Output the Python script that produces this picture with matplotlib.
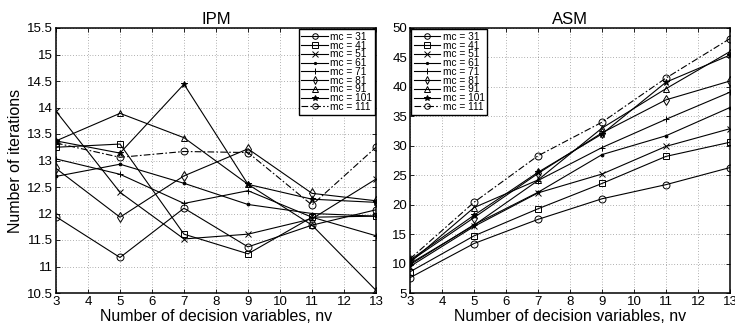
import matplotlib
matplotlib.use("Agg")
import matplotlib.pyplot as plt

plt.rcParams['font.family'] = ['Liberation Sans', 'DejaVu Sans']

nv = [3, 5, 7, 9, 11, 13]
mc_labels = ['mc = 31', 'mc = 41', 'mc = 51', 'mc = 61', 'mc = 71',
             'mc = 81', 'mc = 91', 'mc = 101', 'mc = 111']

# IPM iterations
ipm_31 = [11.94, 11.17, 12.10, 11.37, 11.78, 12.07]
ipm_41 = [13.25, 13.31, 11.61, 11.24, 11.93, 11.95]
ipm_51 = [13.93, 12.40, 11.52, 11.61, 11.90, 12.65]
ipm_61 = [12.70, 12.93, 12.57, 12.17, 12.00, 11.95]
ipm_71 = [13.03, 12.74, 12.19, 12.43, 11.93, 11.58]
ipm_81 = [12.85, 11.93, 12.71, 13.22, 12.38, 12.24]
ipm_91 = [13.37, 13.89, 13.43, 12.55, 11.78, 10.55]
ipm_101 = [13.37, 13.14, 14.44, 12.55, 12.27, 12.21]
ipm_111 = [13.33, 13.06, 13.17, 13.15, 12.16, 13.25]

# ASM iterations
asm_31 = [7.6, 13.4, 17.5, 21.0, 23.4, 26.3]
asm_41 = [8.6, 14.7, 19.3, 23.6, 28.2, 30.6]
asm_51 = [9.5, 16.3, 22.0, 25.2, 29.9, 32.9]
asm_61 = [9.8, 16.6, 22.1, 28.5, 31.7, 36.5]
asm_71 = [10.0, 16.5, 24.1, 29.7, 34.5, 39.1]
asm_81 = [10.4, 17.8, 25.3, 32.2, 37.8, 41.0]
asm_91 = [10.2, 19.5, 24.2, 33.0, 39.7, 46.0]
asm_101 = [10.6, 18.2, 25.5, 32.0, 40.8, 45.4]
asm_111 = [10.8, 20.4, 28.3, 34.0, 41.5, 48.2]

ipm = [ipm_31, ipm_41, ipm_51, ipm_61, ipm_71, ipm_81, ipm_91, ipm_101, ipm_111]
asm = [asm_31, asm_41, asm_51, asm_61, asm_71, asm_81, asm_91, asm_101, asm_111]

markers = ['o', 's', 'x', '.', '+', 'd', '^', '*', 'o']
styles = ['-'] * 8 + [(0, (6, 2, 1.5, 2))]


def draw(ax, data, title, ylim, yticks, loc):
    for vals, m, ls, lab in zip(data, markers, styles, mc_labels):
        filled = m in ('*', '.', 'x', '+')
        ax.plot(nv, vals, color='black', linestyle=ls, linewidth=0.8,
                marker=m, markersize=5 if m != '.' else 4,
                markerfacecolor='black' if filled else 'none',
                markeredgecolor='black', markeredgewidth=0.7,
                label=lab)
    ax.set_xlim(3, 13)
    ax.set_ylim(*ylim)
    ax.set_xticks(range(3, 14))
    ax.set_yticks(yticks)
    ax.set_yticklabels(['%g' % t for t in yticks])
    ax.grid(True, color='black', linestyle=(0, (1, 3)), linewidth=0.5, alpha=0.6)
    ax.tick_params(direction='in', top=True, right=True, labelsize=9.5,
                   length=3, width=0.6, pad=2)
    for s in ax.spines.values():
        s.set_linewidth(1.1)
    ax.set_title(title, fontsize=12, pad=3)
    ax.set_xlabel('Number of decision variables, nv', fontsize=11.5, labelpad=1)
    leg = ax.legend(loc=loc, fontsize=7.3, labelspacing=-0.12, borderpad=0.25,
                    handletextpad=0.25, handlelength=2.6, borderaxespad=0.12,
                    markerscale=0.8, fancybox=False, framealpha=1,
                    edgecolor='black')
    leg.get_frame().set_linewidth(1.0)


fig = plt.figure(figsize=(7.35, 3.29), dpi=100)
ax1 = fig.add_axes([56 / 735, 36 / 329, 320 / 735, 265 / 329])
ax2 = fig.add_axes([410 / 735, 36 / 329, 320 / 735, 265 / 329])

draw(ax1, ipm, 'IPM', (10.5, 15.5), [10.5 + 0.5 * i for i in range(11)], 'upper right')
draw(ax2, asm, 'ASM', (5, 50), list(range(5, 51, 5)), 'upper left')
ax1.set_ylabel('Number of iterations', fontsize=11.5, labelpad=3)

fig.savefig('out.png', dpi=100)
